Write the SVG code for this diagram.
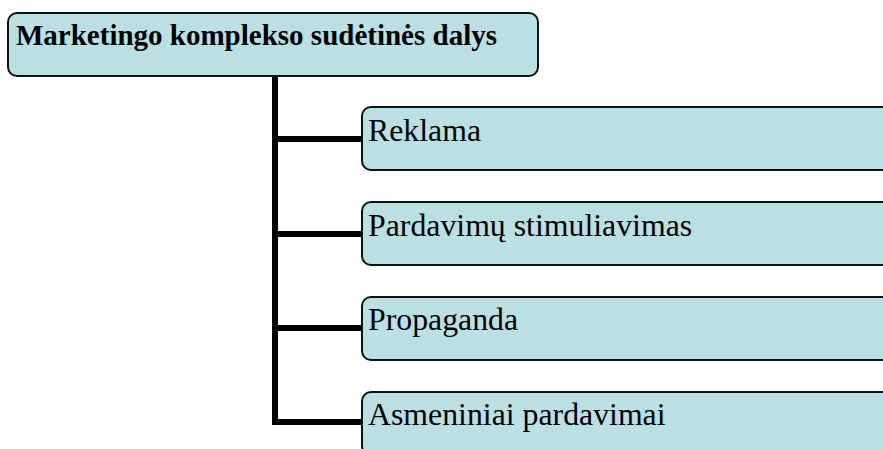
<svg xmlns="http://www.w3.org/2000/svg" width="883" height="449" viewBox="0 0 883 449">
  <style>
    .box { fill: #bae0e3; stroke: #111; stroke-width: 2; }
    .title { font-family: "Liberation Serif", "Times New Roman", serif; font-size: 29px; font-weight: bold; fill: #000; }
    .label { font-family: "Liberation Serif", "Times New Roman", serif; font-size: 31.8px; fill: #000; }
    .conn { fill: none; stroke: #000; stroke-width: 6; }
  </style>

  <!-- tree connectors: trunk with four branches -->
  <g id="connectors">
    <path class="conn" d="M275 76 V422"/>
    <path class="conn" d="M272 139 H363"/>
    <path class="conn" d="M272 234 H363"/>
    <path class="conn" d="M272 328 H363"/>
    <path class="conn" d="M272 422 H363"/>
  </g>

  <g id="root">
    <rect class="box" x="8" y="13" width="530" height="63" rx="9"/>
    <text class="title" x="16" y="45">Marketingo komplekso sudėtinės dalys</text>
  </g>

  <g id="reklama">
    <rect class="box" x="362" y="107" width="540" height="63" rx="9"/>
    <text class="label" x="368" y="141">Reklama</text>
  </g>

  <g id="pardavimu-stimuliavimas">
    <rect class="box" x="362" y="202" width="540" height="63" rx="9"/>
    <text class="label" x="368" y="236">Pardavimų stimuliavimas</text>
  </g>

  <g id="propaganda">
    <rect class="box" x="362" y="297" width="540" height="63" rx="9"/>
    <text class="label" x="368" y="330">Propaganda</text>
  </g>

  <g id="asmeniniai-pardavimai">
    <rect class="box" x="362" y="392" width="540" height="63" rx="9"/>
    <text class="label" x="368" y="425">Asmeniniai pardavimai</text>
  </g>
</svg>
